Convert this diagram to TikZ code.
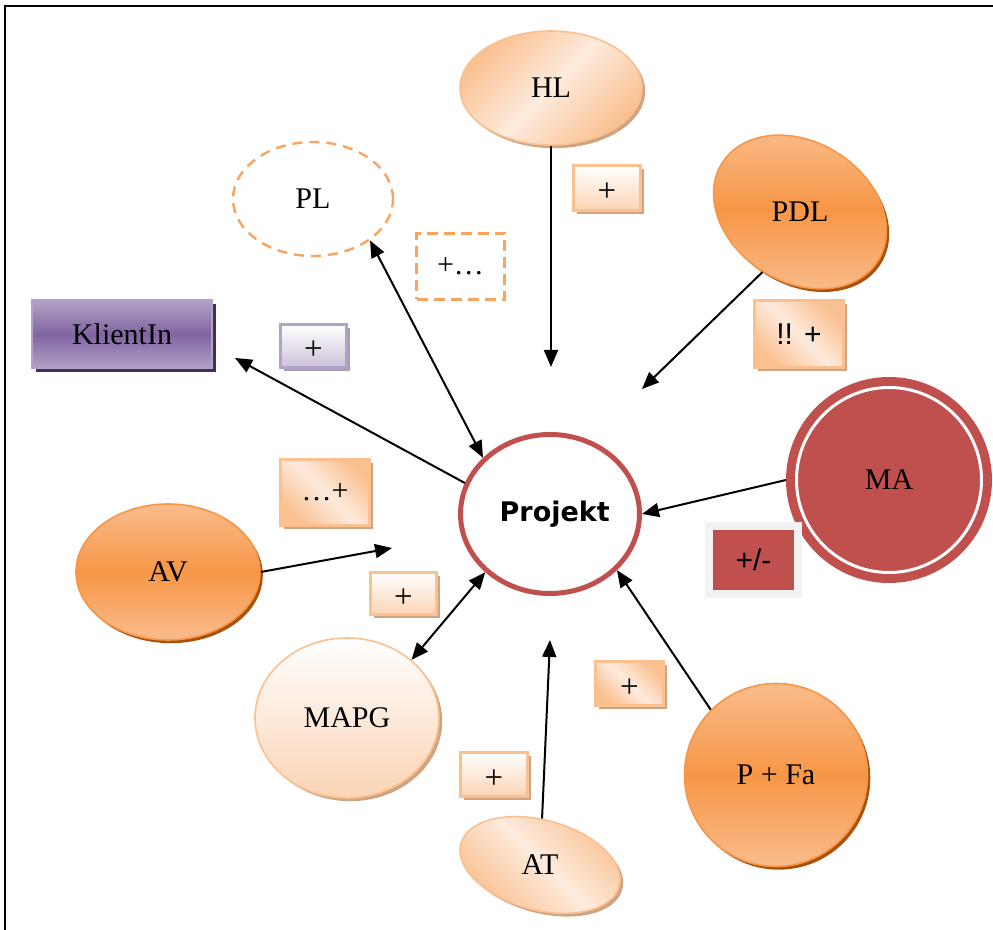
\documentclass[tikz,border=0pt]{standalone}
\usepackage{fontspec}
\setmainfont{Liberation Serif}
\setsansfont{Liberation Sans}
\newfontfamily\projfont{DejaVu Sans}
\usepackage{tikz}
\usetikzlibrary{arrows.meta,shapes.geometric,shadows}
\definecolor{peachline}{HTML}{FAC090}
\definecolor{peachfill}{HTML}{FBD4B4}
\definecolor{peachpale}{HTML}{FDEBDD}
\definecolor{dashorange}{HTML}{F9A35E}
\definecolor{orangemid}{HTML}{F79646}
\definecolor{orangelite}{HTML}{F9BC8C}
\definecolor{orangedark}{HTML}{A8520E}
\definecolor{shadowtan}{HTML}{CFA482}
\definecolor{lilac}{HTML}{B3A2C7}
\definecolor{lilacmid}{HTML}{8064A2}
\definecolor{lilacdark}{HTML}{403152}
\definecolor{lilacpale}{HTML}{CCC1DA}
\definecolor{lilacshadow}{HTML}{A89DB3}
\definecolor{brick}{HTML}{C0504D}
\definecolor{greyframe}{HTML}{F2F2F2}
\definecolor{shadowrose}{HTML}{B89A9A}

\begin{document}
\begin{tikzpicture}[x=0.5pt,y=-0.5pt,font=\fontsize{15}{18}\selectfont,
  tanshadow/.style={drop shadow={shadow xshift=1.6pt,shadow yshift=-1.6pt,fill=shadowtan,opacity=1}},
  paleoval/.style={ellipse,inner sep=0pt,draw=peachline,line width=0.8pt,top color=white,bottom color=peachfill,tanshadow},
  diagoval/.style={ellipse,inner sep=0pt,draw=peachline,line width=0.8pt,top color=peachline,bottom color=peachline,middle color=peachpale,shading angle=-45,tanshadow},
  orangeoval/.style={ellipse,inner sep=0pt,draw=orangemid,line width=0.8pt,top color=orangelite,bottom color=orangelite,middle color=orangemid,
    drop shadow={shadow xshift=1.4pt,shadow yshift=-1.6pt,fill=orangedark,opacity=1}},
  dashoval/.style={ellipse,inner sep=0pt,draw=dashorange,fill=white,line width=1.2pt,dash pattern=on 5pt off 3.5pt},
  projring/.style={ellipse,inner sep=0pt,draw=brick,line width=2.5pt,fill=white},
  maring/.style={circle,inner sep=0pt,fill=brick,draw=brick,double=white,double distance=1.5pt,line width=4.5pt,outer sep=5.25pt},
  klientbox/.style={rectangle,inner sep=0pt,draw=lilac,line width=1pt,top color=lilac,bottom color=lilac,middle color=lilacmid,
    drop shadow={shadow xshift=2pt,shadow yshift=-2pt,fill=lilacdark,opacity=1}},
  plusbox/.style={rectangle,inner sep=0pt,draw=peachline,line width=1.5pt,top color=white,bottom color=peachfill,tanshadow,font=\fontsize{16.5}{18}\selectfont},
  diagbox/.style={plusbox,top color=peachline,bottom color=peachline,middle color=peachpale,shading angle=-45},
  lilacplus/.style={plusbox,draw=lilac,bottom color=lilacpale,drop shadow={shadow xshift=1.6pt,shadow yshift=-1.6pt,fill=lilacshadow,opacity=1}},
  dashbox/.style={rectangle,inner sep=0pt,draw=dashorange,line width=1.5pt,dash pattern=on 5.5pt off 3pt},
  redbox/.style={rectangle,inner sep=0pt,fill=brick,draw=greyframe,line width=4pt,font=\sffamily\fontsize{15}{18}\selectfont,
    drop shadow={shadow xshift=1pt,shadow yshift=-2pt,fill=shadowrose,opacity=1}},
  lowtext/.style={text height=14pt,text depth=0pt},
  arr/.style={-{Triangle[length=8.5pt,width=7pt]},line width=1pt},
  darr/.style={{Triangle[length=8.5pt,width=7pt]}-{Triangle[length=8.5pt,width=7pt]},line width=1pt}]
\useasboundingbox (0,0) rectangle (993,930);
\draw[line width=1pt] (5,930) -- (5,6) -- (993,6);

\node[projring,minimum width=89.5pt,minimum height=79.5pt] (proj) at (550,514) {\projfont\bfseries\fontsize{13.5}{16}\selectfont\ Projekt};
\node[diagoval,minimum width=91pt,minimum height=57pt,shading angle=45] (hl) at (551,88) {HL};
\node[dashoval,minimum width=80pt,minimum height=57pt] (pl) at (313,199) {PL};
\node[orangeoval,rotate=-32,minimum width=92pt,minimum height=70pt] (pdl) at (800,212) {};
\node (pdltext) at (pdl) {PDL};
\node[maring,minimum size=92.5pt] (ma) at (889,480) {MA};
\node[orangeoval,minimum width=91.5pt,minimum height=91.5pt] (pfa) at (776,775) {P + Fa};
\node[diagoval,rotate=-15,minimum width=82pt,minimum height=45pt] (at) at (540,865) {};
\node (attext) at (at) {AT};
\node[paleoval,minimum width=92pt,minimum height=80pt] (mapg) at (347,718) {MAPG};
\node[orangeoval,minimum width=92pt,minimum height=68pt] (av) at (168,572) {AV};
\node[klientbox,minimum width=90pt,minimum height=34pt] (klient) at (122,334.5) {KlientIn};

\node[plusbox,lowtext,minimum width=33.5pt,minimum height=22.5pt] (hlplus) at (607,188) {+};
\node[dashbox,minimum width=44pt,minimum height=33pt] (plplus) at (460.5,266.5) {+\ldots};
\node[lilacplus,lowtext,minimum width=33pt,minimum height=21.5pt] (klplus) at (313.5,346) {+};
\node[diagbox,minimum width=44.5pt,minimum height=33pt,font=\fontsize{15}{18}\selectfont] (avdots) at (325,492.5) {\ldots+};
\node[plusbox,lowtext,minimum width=33pt,minimum height=21pt] (avplus) at (403.5,593.5) {+};
\node[diagbox,minimum width=44.5pt,minimum height=33.5pt,font=\sffamily\fontsize{15}{18}\selectfont] (pdlplus) at (799,334) {!! +};
\node[redbox,minimum width=44.5pt,minimum height=34pt] (maplus) at (753.5,560) {+/-};
\node[diagbox,lowtext,minimum width=34pt,minimum height=22pt] (pfaplus) at (629.5,683.5) {+};
\node[plusbox,lowtext,minimum width=33.5pt,minimum height=22pt] (atplus) at (494,774.5) {+};

\coordinate (hlend) at (551,367);
\coordinate (pdlend) at (642,389);
\coordinate (atend) at (550,640);
\coordinate (avend) at (392,548);
\coordinate (klend) at (235,358);

\draw[arr] (hl) -- (hlend);
\draw[arr] (pdl.south) -- (pdlend);
\draw[arr] (ma.west) -- (proj.east);
\draw[arr] (pfa.135) -- (proj.-40);
\draw[arr] (at) -- (atend);
\draw[darr] (mapg.42) -- (proj.222);
\draw[arr] (av.east) -- (avend);
\draw[arr] (proj.160) -- (klend);
\draw[darr] (pl.-36) -- (proj.140);
\end{tikzpicture}
\end{document}
